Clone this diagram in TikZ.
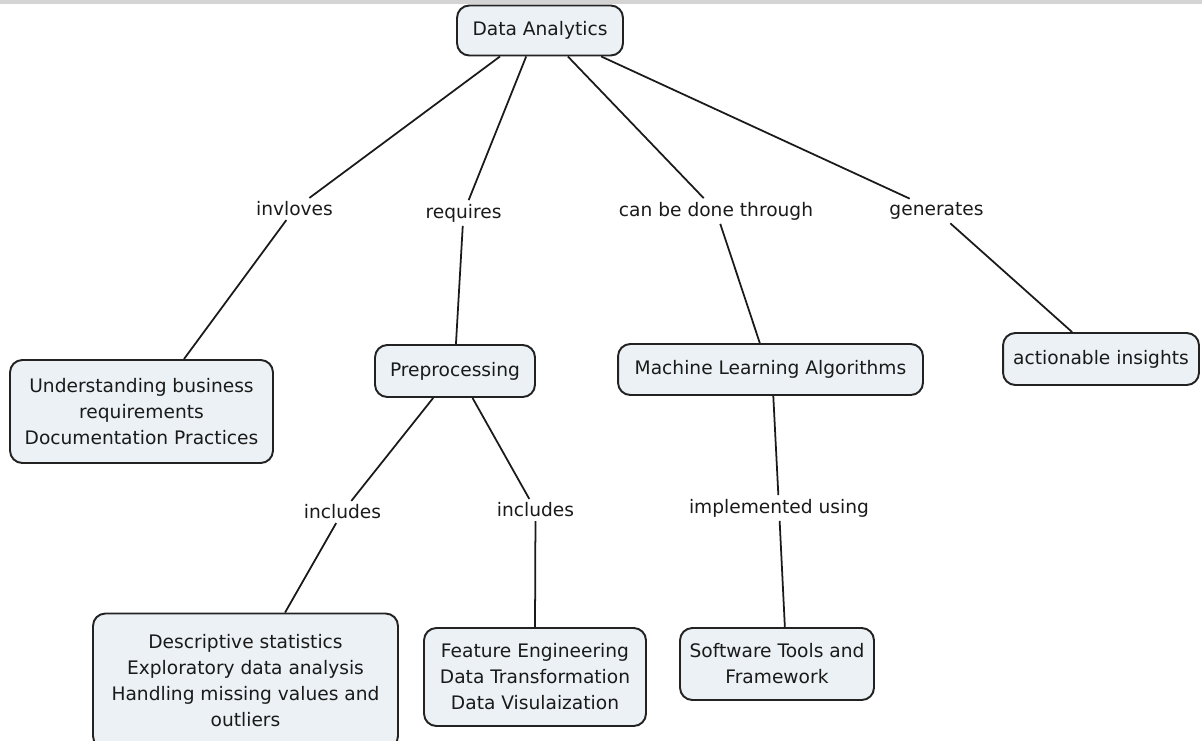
\documentclass[tikz,border=0pt]{standalone}
\usepackage{fontspec}
\setmainfont{DejaVu Sans}
\usetikzlibrary{positioning}
\usepackage{xcolor}
\definecolor{conceptbg}{HTML}{EBF1F4}
\definecolor{conceptrule}{HTML}{222222}
\definecolor{linktext}{HTML}{1A1A1A}
\definecolor{barbg}{HTML}{D4D4D4}

\begin{document}
\begin{tikzpicture}[
  x=0.02cm, y=-0.02cm,
  font=\fontsize{10.6}{14.8}\selectfont,
  cpt/.style={draw=conceptrule, line width=1.1pt, rounded corners=7pt,
              fill=conceptbg, align=center, inner sep=0pt, text=linktext},
  lnk/.style={align=center, inner sep=2pt, text=linktext},
  con/.style={line width=1pt, draw=linktext},
]
\useasboundingbox (0,0) rectangle (1202,740);
\fill[barbg] (0,0) rectangle (1202,4);

% concepts
\node[cpt, minimum width=3.32cm, minimum height=1.00cm] (da)  at (540,30.5) {Data Analytics};
\node[cpt, minimum width=5.26cm, minimum height=2.06cm] (und) at (141.5,411.5)
  {Understanding business\\requirements\\Documentation Practices};
\node[cpt, minimum width=3.20cm, minimum height=1.04cm] (pre) at (455,371) {Preprocessing};
\node[cpt, minimum width=6.10cm, minimum height=1.02cm] (mla) at (770.5,369.5) {Machine Learning Algorithms};
\node[cpt, minimum width=3.92cm, minimum height=1.04cm] (act) at (1101,359) {actionable insights};
\node[cpt, minimum width=6.10cm, minimum height=2.70cm] (des) at (245.5,681)
  {Descriptive statistics\\Exploratory data analysis\\Handling missing values and\\outliers};
\node[cpt, minimum width=4.44cm, minimum height=1.96cm] (fea) at (535,677)
  {Feature Engineering\\Data Transformation\\Data Visulaization};
\node[cpt, minimum width=3.88cm, minimum height=1.44cm] (sw)  at (777,664)
  {Software Tools and\\Framework};

% linking phrases
\node[lnk] (l1) at (294.5,209) {invloves};
\node[lnk] (l2) at (463.5,213) {requires};
\node[lnk] (l3) at (716,211) {can be done through};
\node[lnk] (l4) at (936.5,211) {generates};
\node[lnk] (l5) at (342.5,512) {includes};
\node[lnk] (l6) at (535.5,510) {includes};
\node[lnk] (l7) at (779,508) {implemented using};

\foreach \a/\b in {da.213/l1, l1/und.51, da.242/l2, l2/pre.88,
                   da.317/l3, l3/mla.112, da.337/l4, l4/act.137,
                   pre.231/l5, l5/des.60, pre.303/l6, l6/fea.90,
                   mla.276/l7, l7/sw.78}
  \draw[con] (\a) -- (\b);

\end{tikzpicture}
\end{document}
